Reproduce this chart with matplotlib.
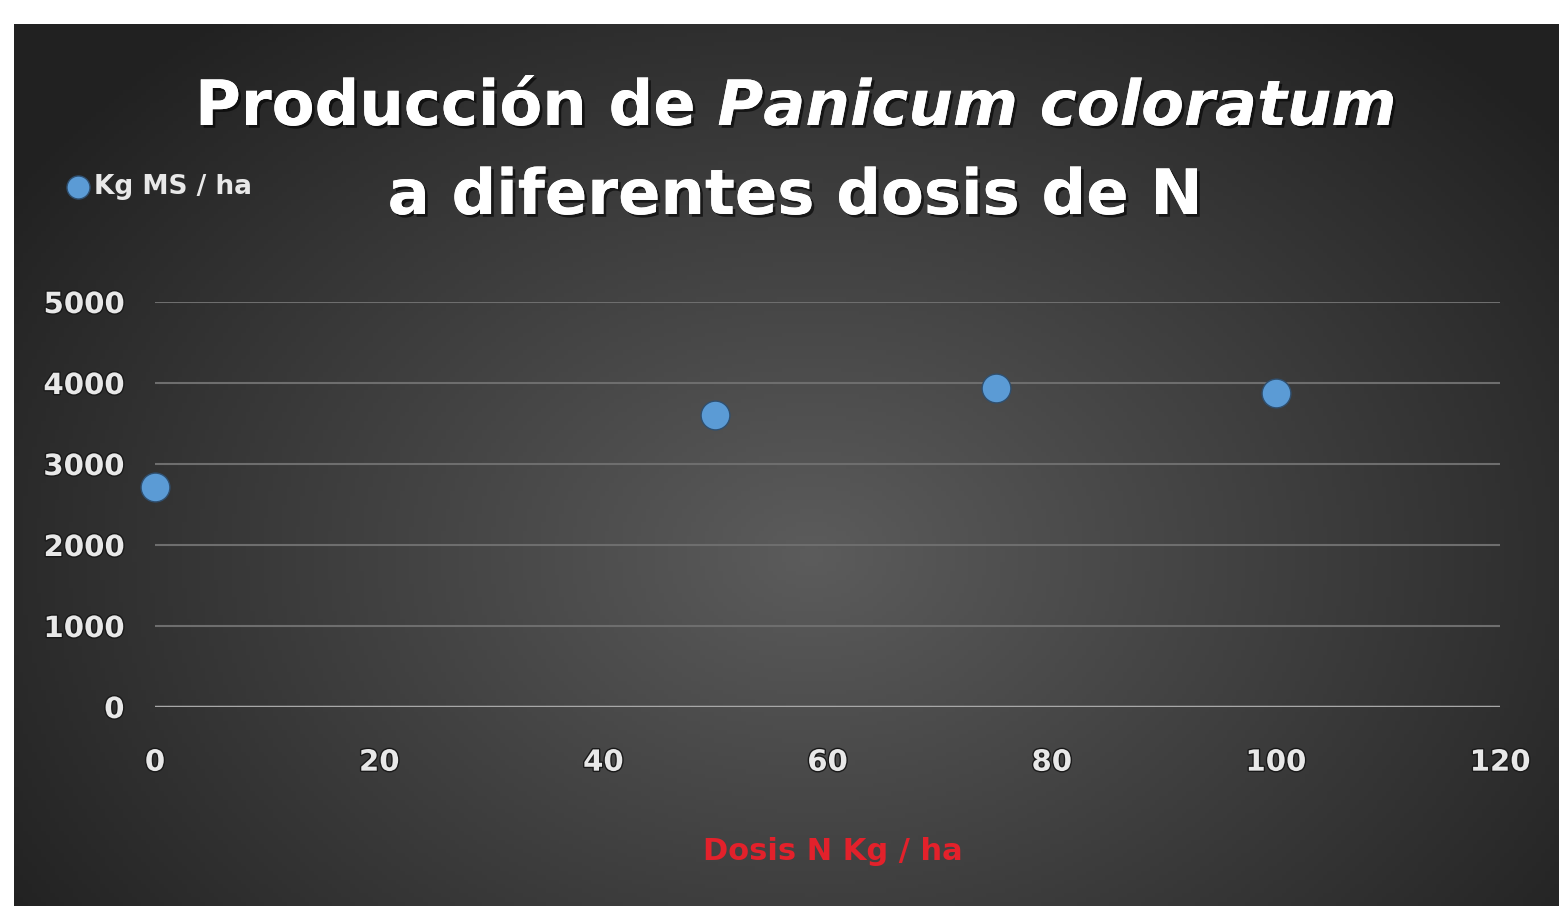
import numpy as np
import matplotlib.pyplot as plt
import matplotlib.patheffects as pe

plt.rcParams['mathtext.fontset'] = 'custom'
plt.rcParams['mathtext.rm'] = 'DejaVu Sans:bold'
plt.rcParams['mathtext.it'] = 'DejaVu Sans:italic:bold'

# datos
dosis_n = [0, 50, 75, 100]
kg_ms_ha = [2720, 3600, 3940, 3880]
x_ticks = [0, 20, 40, 60, 80, 100, 120]
y_ticks = [0, 1000, 2000, 3000, 4000, 5000]

W, H = 1559, 906
fig = plt.figure(figsize=(W / 100, H / 100), dpi=100)
fig.patch.set_facecolor('white')

# fondo con degradado radial
bg = fig.add_axes([14 / W, 0, 1 - 14 / W, 1 - 24 / H])
bg.set_axis_off()
yy, xx = np.mgrid[0:200, 0:340]
cx, cy = 175, 120
r = np.sqrt(((xx - cx) / 200) ** 2 + ((yy - cy) / 150) ** 2)
shade = np.clip(0.36 - 0.22 * r, 0.13, 0.36)
bg.imshow(np.dstack([shade] * 3), aspect='auto', extent=[0, 1, 0, 1], origin='upper')

# ejes principales
x0, x1 = 155, 1500
y0, y1 = 707, 302
ax = fig.add_axes([x0 / W, 1 - y0 / H, (x1 - x0) / W, (y0 - y1) / H])
ax.patch.set_alpha(0)
ax.set_xlim(0, 120)
ax.set_ylim(0, 5000)
ax.set_xticks(x_ticks)
ax.set_yticks(y_ticks)
for s in ax.spines.values():
    s.set_visible(False)
ax.grid(axis='y', color='#6e6e6e', linewidth=1.5)
ax.axhline(0, color='#a8a8a8', linewidth=2.5, zorder=2)
ax.tick_params(length=0, labelcolor='#e8e8e8', labelsize=21, pad=22)
ax.tick_params(axis='x', pad=30)
for lbl in ax.get_xticklabels() + ax.get_yticklabels():
    lbl.set_fontweight('bold')
    lbl.set_path_effects([pe.withStroke(linewidth=2, foreground='#1a1a1a')])

ax.scatter(dosis_n, kg_ms_ha, s=430, color='#5b9bd5', edgecolors='#2f4f6f',
           linewidths=1, zorder=3, clip_on=False, label='Kg MS / ha')

shadow = [pe.withSimplePatchShadow(offset=(2, -2), shadow_rgbFace='black', alpha=0.6), pe.Normal()]
fig.text(795 / W, 1 - 108 / H, r"Producción de $\mathit{Panicum\ coloratum}$",
         ha='center', va='center', fontsize=45, fontweight='bold', color='white',
         path_effects=shadow)
fig.text(795 / W, 1 - 197 / H, "a diferentes dosis de N",
         ha='center', va='center', fontsize=45, fontweight='bold', color='white',
         path_effects=shadow)

fig.text(833 / W, 1 - 852 / H, "Dosis N Kg / ha", ha='center', va='center',
         fontsize=22, fontweight='bold', color='#e3212b')

leg = fig.legend(loc='center left', bbox_to_anchor=(52 / W, 1 - 187 / H), frameon=False,
                 prop={'size': 19, 'weight': 'bold'}, labelcolor='#e8e8e8',
                 handletextpad=0.0, markerscale=0.8, borderaxespad=0, handlelength=1.2)

fig.savefig('out.png', dpi=100)
